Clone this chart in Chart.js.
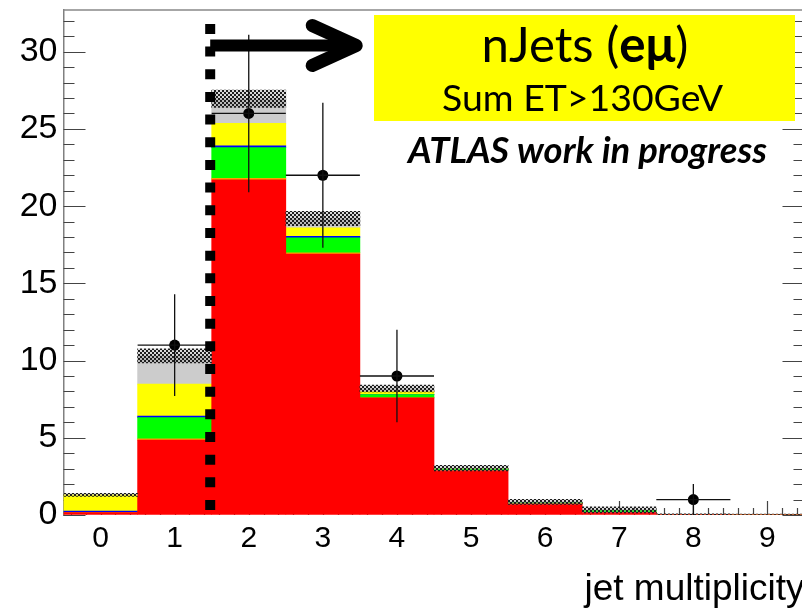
<!DOCTYPE html>
<html>
<head>
<meta charset="utf-8">
<script src="https://cdn.jsdelivr.net/npm/chart.js@4"></script>
<style>
  html, body { margin: 0; padding: 0; background: #fff; overflow: hidden; }
  body { width: 802px; height: 608px; }
  #wrap { width: 810px; height: 608px; }
</style>
</head>
<body>
<div id="wrap"><canvas id="njets" width="810" height="608"></canvas></div>
<script>
// jet multiplicity bins
const bins = ["0", "1", "2", "3", "4", "5", "6", "7", "8", "9"];

// MC stack, bottom to top
const mcRed    = [0.15, 4.85, 21.7, 16.9, 7.58, 2.87, 0.72, 0.17, 0.04, 0.03];
const mcOrange = [0, 0.08, 0.1, 0.08, 0, 0, 0, 0, 0, 0];
const mcGreen  = [0, 1.38, 1.99, 0.97, 0.22, 0.1, 0.06, 0.12, 0, 0];
const mcBlue   = [0.1, 0.1, 0.12, 0.1, 0.02, 0, 0, 0, 0, 0];
const mcYellow = [1.05, 2.06, 1.45, 0.55, 0.17, 0.03, 0.03, 0.02, 0, 0];
const mcGray   = [0, 1.83, 1.59, 0.6, 0.2, 0.03, 0.04, 0.02, 0, 0];
const mcErr    = [0.1, 0.46, 0.56, 0.47, 0.22, 0.18, 0.16, 0.2, 0.03, 0.03];

// data points
const dataVals = [null, 11, 26, 22, 9, null, null, null, 1, null];
const dataErr  = [0, 3.3, 5.1, 4.7, 3.0, 0, 0, 0, 1.0, 0];

const yTicks = [0, 5, 10, 15, 20, 25, 30];
const yMax = 32.7;
const cutX = 1.5;      // njets >= 2 cut
const arrowEnd = 3.45;
const arrowY = 30.4;

const mcTotal = bins.map((b, i) =>
  mcRed[i] + mcOrange[i] + mcGreen[i] + mcBlue[i] + mcYellow[i] + mcGray[i]);
const band = mcTotal.map((t, i) => [t - mcErr[i], t + mcErr[i]]);

function hatchPattern() {
  const c = document.createElement("canvas");
  c.width = 4; c.height = 4;
  const g = c.getContext("2d");
  g.fillStyle = "rgba(150,150,150,0.35)";
  g.fillRect(0, 0, 4, 4);
  g.fillStyle = "#1e1e1e";
  g.fillRect(0, 0, 2, 2);
  g.fillRect(2, 2, 2, 2);
  return g.createPattern(c, "repeat");
}

function stackSet(label, data, color, stack) {
  return { type: "bar", label, data, backgroundColor: color, borderWidth: 0,
           stack: stack || "mc", grouped: false,
           categoryPercentage: 1, barPercentage: 1 };
}

function noPad(s) {
  s.paddingTop = 0; s.paddingBottom = 0;
  s.paddingLeft = 0; s.paddingRight = 0;
}

// axis ticks ROOT style, drawn under the histograms
const rootTicks = {
  id: "rootTicks",
  beforeDatasetsDraw(chart) {
    const { ctx, chartArea: a, scales: { x, y } } = chart;
    const w = x.getPixelForValue(1) - x.getPixelForValue(0);
    ctx.save();
    ctx.strokeStyle = "#444";
    ctx.lineWidth = 1.2;
    ctx.beginPath();
    for (let v = 0; v <= Math.floor(yMax); v++) {
      const py = Math.round(y.getPixelForValue(v)) + 0.5;
      const len = v % 5 === 0 ? 22 : 11;
      ctx.moveTo(a.left, py); ctx.lineTo(a.left + len, py);
      ctx.moveTo(a.right, py); ctx.lineTo(a.right - len, py);
    }
    for (let i = 0; i < bins.length; i++) {
      for (let k = -2; k <= 2; k++) {
        const px = Math.round(x.getPixelForValue(i) + k * w * 0.2) + 0.5;
        ctx.moveTo(px, a.bottom);
        ctx.lineTo(px, a.bottom - (k === 0 ? 14 : 7));
      }
    }
    ctx.stroke();
    // top frame
    ctx.strokeStyle = "#888";
    ctx.lineWidth = 1.5;
    ctx.beginPath();
    ctx.moveTo(a.left, a.top); ctx.lineTo(a.right, a.top);
    ctx.stroke();
    ctx.restore();
  }
};

// error bars, cut line, arrow and labels
const overlay = {
  id: "overlay",
  afterDatasetsDraw(chart) {
    const { ctx, scales: { x, y } } = chart;
    const w = x.getPixelForValue(1) - x.getPixelForValue(0);
    ctx.save();

    ctx.strokeStyle = "#111";
    ctx.lineWidth = 1.3;
    ctx.beginPath();
    dataVals.forEach((v, i) => {
      if (v === null) return;
      const px = x.getPixelForValue(i);
      const py = y.getPixelForValue(v);
      ctx.moveTo(px - w / 2, py); ctx.lineTo(px + w / 2, py);
      ctx.moveTo(px, y.getPixelForValue(v - dataErr[i]));
      ctx.lineTo(px, y.getPixelForValue(v + dataErr[i]));
    });
    ctx.stroke();

    // dotted cut line
    const cx = x.getPixelForValue(1) + w * (cutX - 1) - 1.5;
    ctx.strokeStyle = "#000";
    ctx.lineWidth = 10;
    ctx.setLineDash([10, 12.67]);
    ctx.beginPath();
    ctx.moveTo(cx, y.getPixelForValue(0) - 5);
    ctx.lineTo(cx, y.getPixelForValue(31.8));
    ctx.stroke();
    ctx.setLineDash([]);

    // arrow
    const ay = y.getPixelForValue(arrowY);
    const tip = x.getPixelForValue(3) + w * (arrowEnd - 3);
    ctx.lineWidth = 12;
    ctx.lineCap = "butt";
    ctx.beginPath();
    ctx.moveTo(cx, ay); ctx.lineTo(tip - 6, ay);
    ctx.stroke();
    ctx.lineWidth = 13;
    ctx.lineCap = "round";
    ctx.lineJoin = "round";
    ctx.beginPath();
    ctx.moveTo(tip - 44, ay - 20); ctx.lineTo(tip, ay); ctx.lineTo(tip - 44, ay + 20);
    ctx.stroke();

    // label box
    ctx.fillStyle = "#ffff00";
    ctx.fillRect(374, 15, 421, 106);

    const fam = "Lato, 'Open Sans', sans-serif";
    ctx.fillStyle = "#000";
    ctx.textBaseline = "alphabetic";
    ctx.textAlign = "left";

    // line 1 with bold e mu
    const p1 = "nJets (", p2 = "e\u03bc", p3 = ")";
    ctx.font = "400 100px " + fam;
    let w1 = ctx.measureText(p1).width + ctx.measureText(p3).width;
    ctx.font = "700 100px " + fam;
    let w2 = ctx.measureText(p2).width;
    const s1 = 100 * 207 / (w1 + w2);
    ctx.font = "400 " + s1 + "px " + fam;
    const a1 = ctx.measureText(p1).width, a3 = ctx.measureText(p3).width;
    ctx.font = "700 " + s1 + "px " + fam;
    const a2 = ctx.measureText(p2).width;
    let tx = 585 - (a1 + a2 + a3) / 2;
    ctx.font = "400 " + s1 + "px " + fam;
    ctx.fillText(p1, tx, 62);
    ctx.font = "700 " + s1 + "px " + fam;
    ctx.fillText(p2, tx + a1, 62);
    ctx.font = "400 " + s1 + "px " + fam;
    ctx.fillText(p3, tx + a1 + a2, 62);

    ctx.textAlign = "center";
    const line2 = "Sum ET>130GeV";
    ctx.font = "400 100px " + fam;
    const s2 = 100 * 281 / ctx.measureText(line2).width;
    ctx.font = "400 " + s2 + "px " + fam;
    ctx.fillText(line2, 582.5, 111);

    const line3 = "ATLAS work in progress";
    ctx.font = "italic 700 100px " + fam;
    const s3 = 100 * 359 / ctx.measureText(line3).width;
    ctx.font = "italic 700 " + s3 + "px " + fam;
    ctx.fillText(line3, 587.5, 163);

    ctx.restore();
  }
};

const hatchSet = stackSet("MC uncertainty", band, hatchPattern(), "band");
hatchSet.order = -1;   // drawn over the stack

new Chart(document.getElementById("njets"), {
  data: {
    labels: bins,
    datasets: [
      stackSet("red", mcRed, "#ff0000"),
      stackSet("orange", mcOrange, "#ffa000"),
      stackSet("green", mcGreen, "#00ff00"),
      stackSet("blue", mcBlue, "#0000ff"),
      stackSet("yellow", mcYellow, "#ffff00"),
      stackSet("gray", mcGray, "#cccccc"),
      hatchSet,
      {
        type: "line", label: "Data", data: dataVals, stack: "data", order: -2,
        showLine: false,
        pointRadius: 5.5, pointBackgroundColor: "#000", pointBorderWidth: 0
      }
    ]
  },
  options: {
    responsive: false,
    animation: false,
    layout: { padding: { top: 10, right: 2, left: 0, bottom: 0 } },
    plugins: { legend: { display: false }, tooltip: { enabled: false } },
    scales: {
      x: {
        type: "category", stacked: true, offset: true,
        grid: { drawOnChartArea: false, drawTicks: false },
        border: { display: false },
        ticks: { color: "#000", padding: 6, maxRotation: 0, autoSkip: false,
                 font: { family: "'Liberation Sans', Arial", size: 30 } },
        title: { display: true, text: "jet multiplicity", align: "end", color: "#000",
                 padding: 0, font: { family: "'Liberation Sans', Arial", size: 37, lineHeight: 1 } },
        afterFit(s) { s.height = 93; noPad(s); }
      },
      y: {
        stacked: true, min: 0, max: yMax,
        grid: { drawOnChartArea: false, drawTicks: false },
        border: { display: true, color: "#808080", width: 1.5 },
        ticks: { stepSize: 5, color: "#000", padding: 6,
                 font: { family: "'Liberation Sans', Arial", size: 34 } },
        afterBuildTicks(s) { s.ticks = yTicks.map(v => ({ value: v })); },
        afterFit(s) { s.width = 63.5; noPad(s); }
      }
    }
  },
  plugins: [rootTicks, overlay]
});
</script>
</body>
</html>
